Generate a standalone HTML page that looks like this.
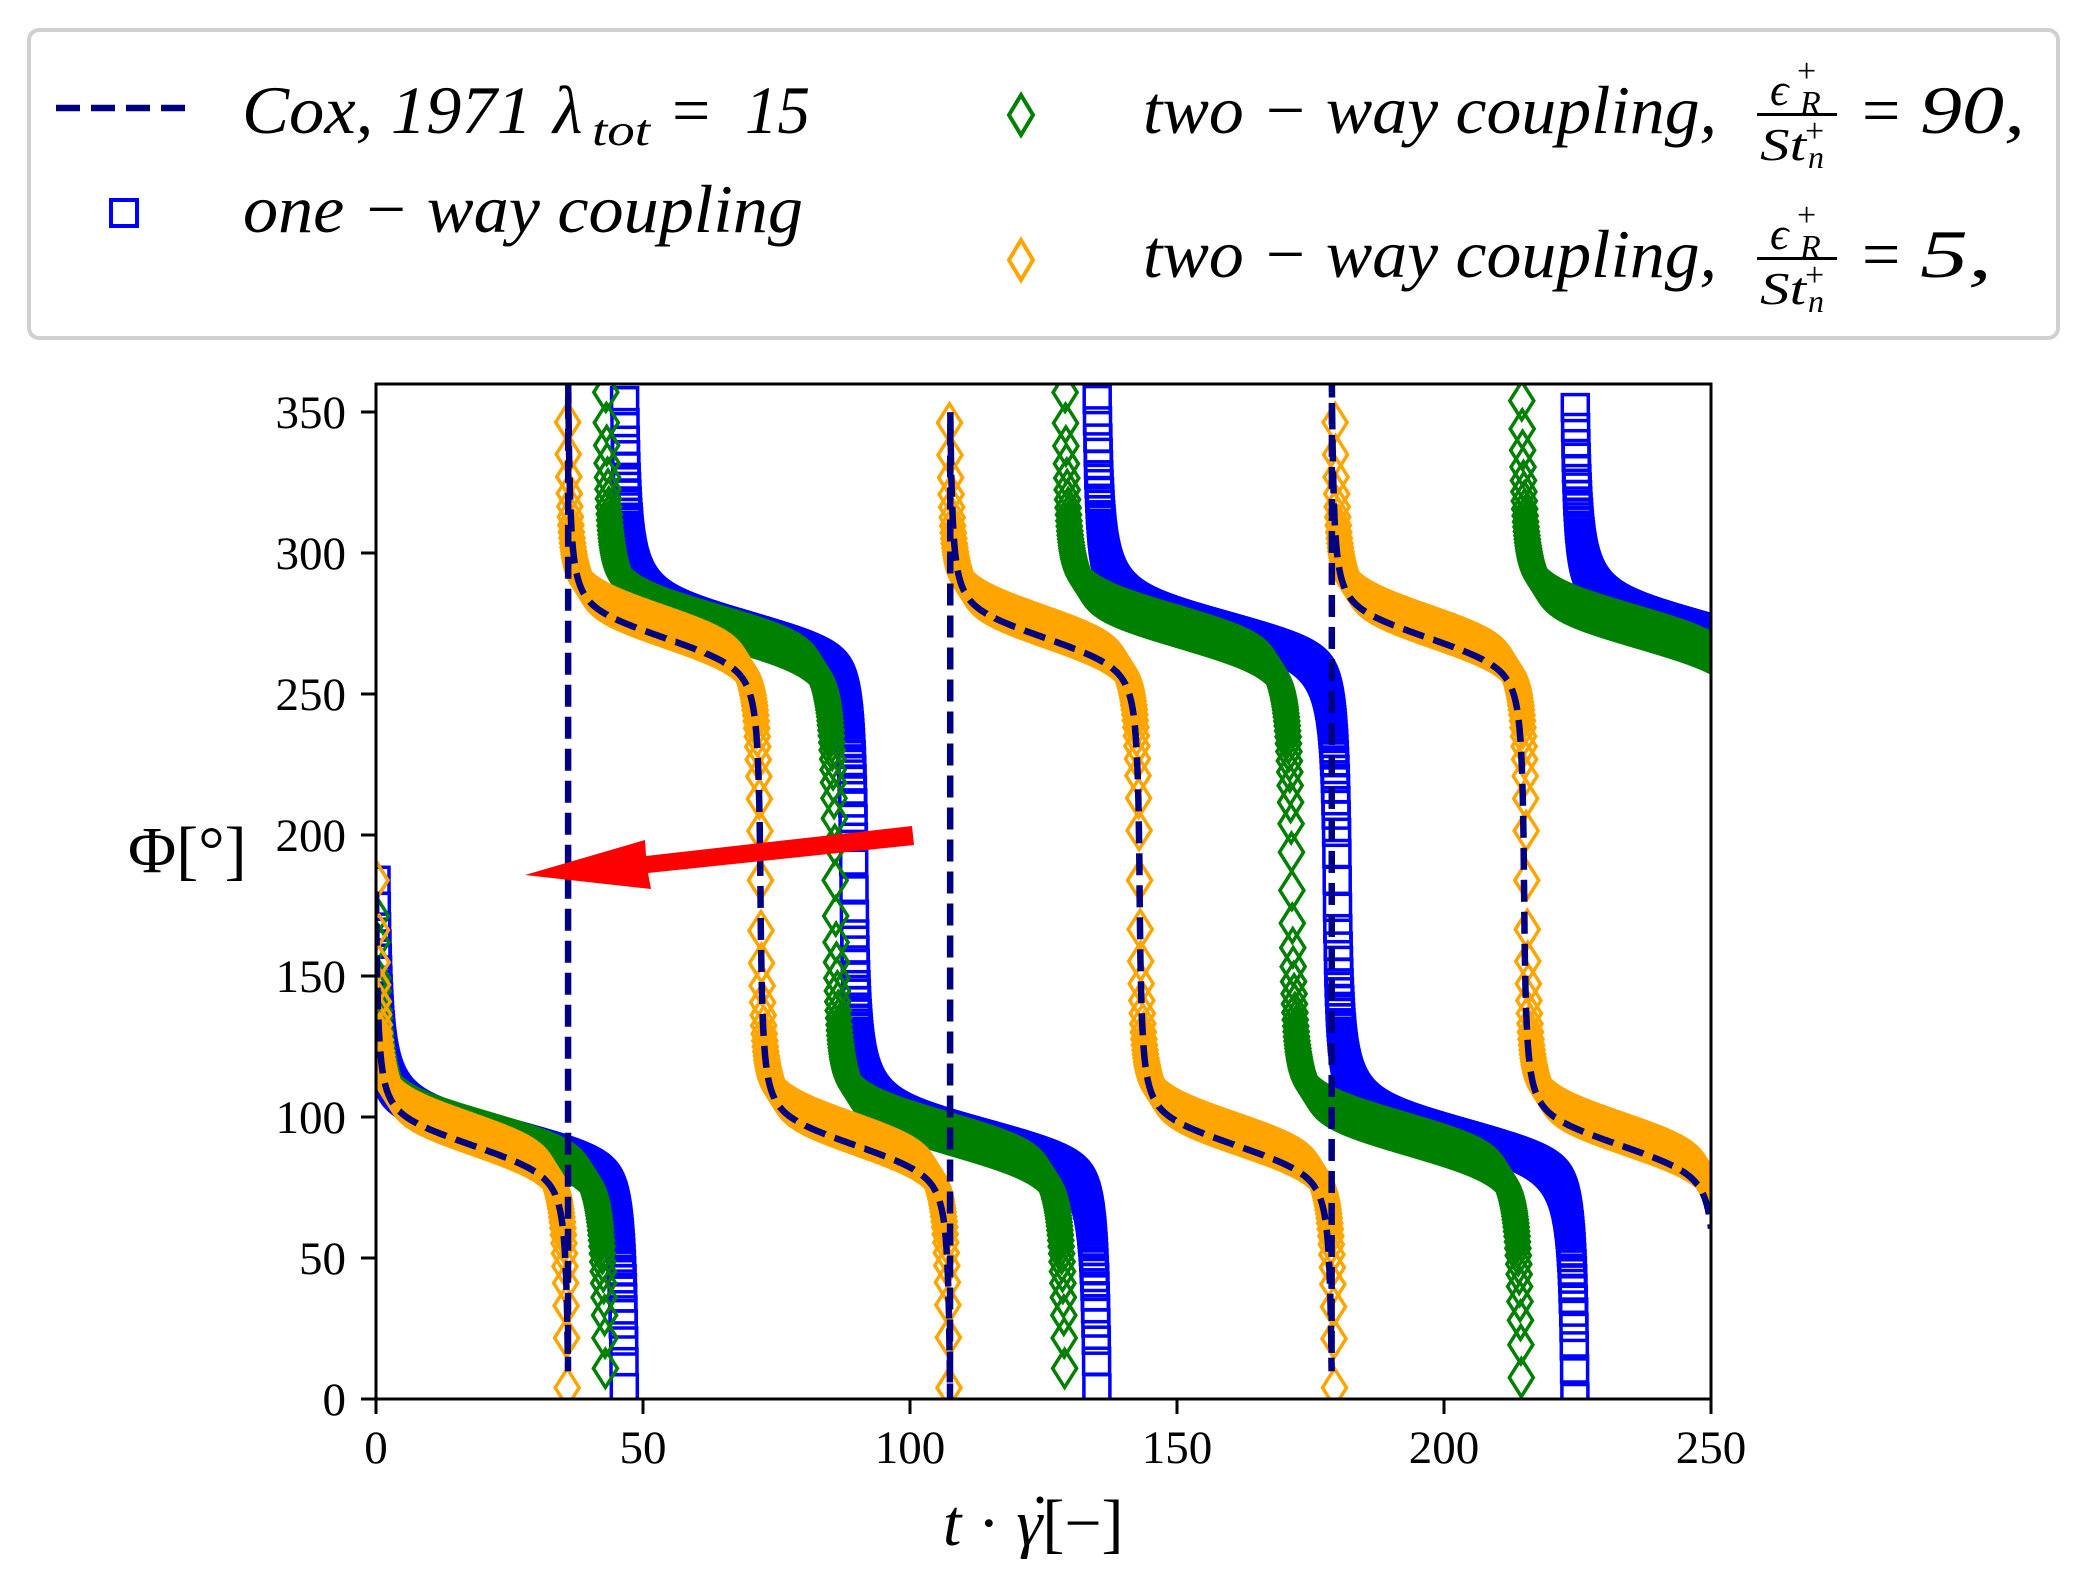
<!DOCTYPE html>
<html><head><meta charset="utf-8">
<style>
html,body{margin:0;padding:0;background:#fff;}
svg{display:block;}
text{font-family:"Liberation Serif",serif;fill:#000;}
.it{font-style:italic;}
</style></head>
<body>
<svg id="s" xmlns="http://www.w3.org/2000/svg" width="2091" height="1586" viewBox="0 0 2091 1586">
<defs><clipPath id="ax"><rect x="376" y="384" width="1335" height="1015"/></clipPath></defs>
<rect x="0" y="0" width="2091" height="1586" fill="#fff"/>
<rect x="29" y="30" width="2029" height="308" rx="10" fill="#fff" stroke="#d0d0d0" stroke-width="4"/>
<line x1="56" y1="108" x2="190" y2="108" stroke="#000080" stroke-width="6.5" stroke-dasharray="24 11"/>
<rect x="111" y="200" width="26" height="26" fill="none" stroke="#0000ff" stroke-width="4"/>
<polygon points="1021,95 1033,115 1021,135 1009,115" fill="none" stroke="#008000" stroke-width="4"/>
<polygon points="1021,240 1033,260 1021,280 1009,260" fill="none" stroke="#ffa500" stroke-width="4"/>
<text class="it" x="242" y="133" font-size="68" textLength="290" lengthAdjust="spacingAndGlyphs">Cox, 1971</text>
<text class="it" x="553" y="133" font-size="68">λ</text>
<text class="it" x="592" y="145" font-size="44" textLength="58" lengthAdjust="spacingAndGlyphs">tot</text>
<text x="672" y="133" font-size="68">=</text>
<text class="it" x="745" y="133" font-size="68" textLength="65" lengthAdjust="spacingAndGlyphs">15</text>
<text class="it" x="243" y="232" font-size="68" textLength="560" lengthAdjust="spacingAndGlyphs">one − way  coupling</text>
<g>
<text class="it" x="1143" y="133" font-size="68" textLength="574" lengthAdjust="spacingAndGlyphs">two − way  coupling,</text>
<text class="it" x="1770" y="105" font-size="46">ϵ</text>
<text x="1797" y="82" font-size="34">+</text>
<text class="it" x="1800" y="114" font-size="34">R</text>
<rect x="1757" y="113" width="80" height="3"/>
<text class="it" x="1760" y="160" font-size="46" textLength="46" lengthAdjust="spacingAndGlyphs">St</text>
<text x="1805" y="142" font-size="34">+</text>
<text class="it" x="1808" y="168" font-size="32">n</text>
<text x="1862" y="133" font-size="68">=</text>
<text class="it" x="1920" y="133" font-size="68" textLength="105" lengthAdjust="spacingAndGlyphs">90,</text>
</g>
<g transform="translate(0,144)">
<text class="it" x="1143" y="133" font-size="68" textLength="574" lengthAdjust="spacingAndGlyphs">two − way  coupling,</text>
<text class="it" x="1770" y="105" font-size="46">ϵ</text>
<text x="1797" y="82" font-size="34">+</text>
<text class="it" x="1800" y="114" font-size="34">R</text>
<rect x="1757" y="113" width="80" height="3"/>
<text class="it" x="1760" y="160" font-size="46" textLength="46" lengthAdjust="spacingAndGlyphs">St</text>
<text x="1805" y="142" font-size="34">+</text>
<text class="it" x="1808" y="168" font-size="32">n</text>
<text x="1862" y="133" font-size="68">=</text>
<text class="it" x="1920" y="133" font-size="68" textLength="72" lengthAdjust="spacingAndGlyphs">5,</text>
</g>
<g id="data" clip-path="url(#ax)"></g>
<rect x="376" y="384" width="1335" height="1015" fill="none" stroke="#000" stroke-width="3"/>
<g stroke="#000" stroke-width="3">
<line x1="376" y1="1399" x2="376" y2="1414"/><line x1="643" y1="1399" x2="643" y2="1414"/>
<line x1="910" y1="1399" x2="910" y2="1414"/><line x1="1177" y1="1399" x2="1177" y2="1414"/>
<line x1="1444" y1="1399" x2="1444" y2="1414"/><line x1="1711" y1="1399" x2="1711" y2="1414"/>
<line x1="361" y1="1399" x2="376" y2="1399"/><line x1="361" y1="1258" x2="376" y2="1258"/>
<line x1="361" y1="1117" x2="376" y2="1117"/><line x1="361" y1="976" x2="376" y2="976"/>
<line x1="361" y1="835" x2="376" y2="835"/><line x1="361" y1="694" x2="376" y2="694"/>
<line x1="361" y1="553" x2="376" y2="553"/><line x1="361" y1="412" x2="376" y2="412"/>
</g>
<g font-size="47" text-anchor="middle">
<text x="376" y="1463">0</text><text x="643" y="1463">50</text><text x="910" y="1463">100</text>
<text x="1177" y="1463">150</text><text x="1444" y="1463">200</text><text x="1711" y="1463">250</text>
</g>
<g font-size="47" text-anchor="end">
<text x="346" y="1415">0</text><text x="346" y="1274">50</text><text x="346" y="1133">100</text>
<text x="346" y="992">150</text><text x="346" y="851">200</text><text x="346" y="710">250</text>
<text x="346" y="569">300</text><text x="346" y="428">350</text>
</g>
<text x="128" y="872" font-size="66">Φ[°]</text>
<text x="943" y="1545" font-size="66"><tspan class="it">t</tspan> · <tspan class="it">γ</tspan>[−]</text>
<circle cx="1040" cy="1500" r="3.5" fill="#000"/>
<polygon points="912,826 914,845 648,873 651,889 525,875 645,840 646,856" fill="#ff0000"/>
</svg>
<script>
(function(){
var X=function(t){return 376+t*5.34;}, Y=function(p){return 1399-p*2.819;};
var B=0.98, C0=0.09;
var tb=Math.tan(B*Math.PI/2);
function g(s){return C0*s+(1-C0)*Math.tan(B*s*Math.PI/2)/tb;}
function mk(C,p0){
 return function(t){
  var i=0; while(i<C.length-2 && t>C[i+1]) i++;
  var a=C[i],b=C[i+1];
  var s=2*(t-a)/(b-a)-1; if(s>1)s=1; if(s<-1)s=-1;
  var p=p0-180*i-90*(g(s)+1);
  p=((p%360)+360)%360; return p;
 };
}
var cox=mk([0,36,72,107.5,143,179,215,251,287],180);
var ora=mk([0,35.8,72,107.3,143,179.5,215.5,252,288],184);
var gre=mk([0,43,86,129,171.5,214.5,257.5,300],184);
var blu=mk([-45,0,46.5,89.5,135,180,224.5,269,314],364);
var h='';
var t,x,y,p;
for(t=0;t<=250;t+=0.06){p=blu(t);x=X(t);y=Y(p);h+='<rect x="'+(x-13).toFixed(1)+'" y="'+(y-13).toFixed(1)+'" width="26" height="26"/>';}
var blueG='<g fill="none" stroke="#0000ff" stroke-width="3.5">'+h+'</g>';
h='';
for(t=0;t<=250;t+=0.08){p=gre(t);x=X(t);y=Y(p);h+='<polygon points="'+x.toFixed(1)+','+(y-19).toFixed(1)+' '+(x+12).toFixed(1)+','+y.toFixed(1)+' '+x.toFixed(1)+','+(y+19).toFixed(1)+' '+(x-12).toFixed(1)+','+y.toFixed(1)+'"/>';}
var greG='<g fill="none" stroke="#008000" stroke-width="3.5">'+h+'</g>';
h='';
for(t=0;t<=250;t+=0.1){p=ora(t);x=X(t);y=Y(p);h+='<polygon points="'+x.toFixed(1)+','+(y-19).toFixed(1)+' '+(x+12).toFixed(1)+','+y.toFixed(1)+' '+x.toFixed(1)+','+(y+19).toFixed(1)+' '+(x-12).toFixed(1)+','+y.toFixed(1)+'"/>';}
var oraG='<g fill="none" stroke="#ffa500" stroke-width="3.5">'+h+'</g>';
var pts=[];
for(t=0;t<=250.001;t+=0.05){p=cox(t);pts.push(X(t).toFixed(1)+','+Y(p).toFixed(1));}
var coxG='<polyline fill="none" stroke="#000080" stroke-width="6.5" stroke-dasharray="22 10" points="'+pts.join(' ')+'"/>';
document.getElementById('data').innerHTML=blueG+greG+oraG+coxG;
})();
</script>
</body></html>
